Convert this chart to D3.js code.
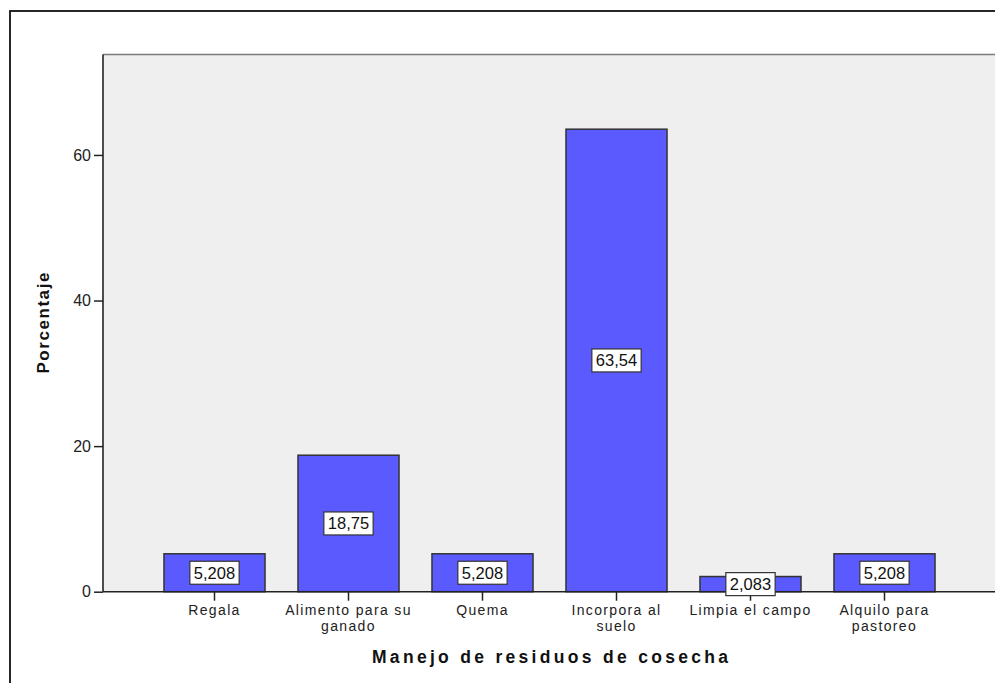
<!DOCTYPE html>
<html>
<head>
<meta charset="utf-8">
<script src="https://cdn.jsdelivr.net/npm/d3@7"></script>
<style>
  html, body { margin: 0; padding: 0; background: #ffffff; }
  svg { display: block; }
</style>
</head>
<body>
<div id="chart"></div>
<script>
// Manejo de residuos de cosecha — porcentaje por categoría
const categories = [
  "Regala",
  "Alimento para su ganado",
  "Quema",
  "Incorpora al suelo",
  "Limpia el campo",
  "Alquilo para pastoreo"
];
const percentages = [5.208, 18.75, 5.208, 63.54, 2.083, 5.208];
const valueLabels = ["5,208", "18,75", "5,208", "63,54", "2,083", "5,208"];
const tickLabelLines = [
  ["Regala"],
  ["Alimento para su", "ganado"],
  ["Quema"],
  ["Incorpora al", "suelo"],
  ["Limpia el campo"],
  ["Alquilo para", "pastoreo"]
];
const yTicks = [0, 20, 40, 60];
const xTitle = "Manejo de residuos de cosecha";
const yTitle = "Porcentaje";

const W = 995, H = 683;
const plot = { left: 103, right: 998, top: 54.5, bottom: 591.7 };

const svg = d3.select("#chart").append("svg")
  .attr("width", W).attr("height", H);

// outer frame
svg.append("rect")
  .attr("x", 10).attr("y", 11)
  .attr("width", W + 20).attr("height", H + 20)
  .attr("fill", "#ffffff")
  .attr("stroke", "#111111").attr("stroke-width", 1.8);

const x = d3.scaleBand()
  .domain(categories)
  .range([147.5, 951.5])
  .paddingInner(0.246)
  .paddingOuter(0.123);

const y = d3.scaleLinear()
  .domain([0, 73.8])
  .range([plot.bottom, plot.top]);

// plot background
svg.append("rect")
  .attr("x", plot.left).attr("y", plot.top)
  .attr("width", plot.right - plot.left).attr("height", plot.bottom - plot.top)
  .attr("fill", "#efefef");

svg.append("line")
  .attr("x1", plot.left).attr("x2", plot.right)
  .attr("y1", plot.top).attr("y2", plot.top)
  .attr("stroke", "#7a7a7a").attr("stroke-width", 1.6);

// bars
svg.append("g").selectAll("rect")
  .data(percentages)
  .join("rect")
  .attr("x", (d, i) => x(categories[i]))
  .attr("y", d => y(d))
  .attr("width", x.bandwidth())
  .attr("height", d => y(0) - y(d))
  .attr("fill", "#5a5aff")
  .attr("stroke", "#333333")
  .attr("stroke-width", 1.5);

// y axis
const yAxis = svg.append("g")
  .attr("transform", `translate(${plot.left},0)`)
  .call(d3.axisLeft(y).tickValues(yTicks).tickSize(9).tickPadding(3).tickFormat(d3.format("d")));
yAxis.select(".domain").remove();
yAxis.selectAll(".tick line").attr("stroke", "#222").attr("stroke-width", 1.5);
yAxis.selectAll(".tick text")
  .attr("fill", "#222")
  .style("font-family", "'Liberation Sans', Arial, sans-serif")
  .style("font-size", "16px");

svg.append("line")
  .attr("x1", plot.left).attr("x2", plot.left)
  .attr("y1", plot.top).attr("y2", plot.bottom)
  .attr("stroke", "#222").attr("stroke-width", 1.6);

// x axis
const xAxis = svg.append("g")
  .attr("transform", `translate(0,${plot.bottom})`)
  .call(d3.axisBottom(x).tickSize(9).tickFormat(""));
xAxis.select(".domain").remove();
xAxis.selectAll(".tick line").attr("stroke", "#222").attr("stroke-width", 1.5);
xAxis.selectAll(".tick text").remove();

svg.append("line")
  .attr("x1", plot.left).attr("x2", plot.right)
  .attr("y1", plot.bottom).attr("y2", plot.bottom)
  .attr("stroke", "#222").attr("stroke-width", 1.6);

// category labels, wrapped onto two lines where needed
const tickText = svg.append("g").selectAll("text")
  .data(categories)
  .join("text")
  .attr("x", d => x(d) + x.bandwidth() / 2)
  .attr("y", 615)
  .attr("text-anchor", "middle")
  .attr("fill", "#222")
  .style("font-family", "'Liberation Sans', Arial, sans-serif")
  .style("font-size", "14px")
  .style("letter-spacing", "1.35px");
tickText.each(function(d, i) {
  const t = d3.select(this);
  tickLabelLines[i].forEach((line, k) => {
    t.append("tspan")
      .attr("x", x(d) + x.bandwidth() / 2)
      .attr("dy", k === 0 ? 0 : 15.8)
      .text(line);
  });
});

// value labels
const labels = svg.append("g").selectAll("g")
  .data(percentages)
  .join("g")
  .attr("transform", (d, i) =>
    `translate(${x(categories[i]) + x.bandwidth() / 2},${(y(d) + y(0)) / 2})`);
labels.append("rect").attr("fill", "#ffffff").attr("stroke", "#333").attr("stroke-width", 1.2);
labels.append("text")
  .attr("text-anchor", "middle")
  .attr("dy", "0.36em")
  .attr("fill", "#111")
  .style("font-family", "'Liberation Sans', Arial, sans-serif")
  .style("font-size", "16.5px")
  .text((d, i) => valueLabels[i]);
labels.each(function() {
  const g = d3.select(this);
  const w = g.select("text").node().getComputedTextLength() + 8;
  g.select("rect")
    .attr("x", -w / 2).attr("y", -11.5)
    .attr("width", w).attr("height", 23);
});

// axis titles
svg.append("text")
  .attr("x", (plot.left + 997) / 2)
  .attr("y", 663)
  .attr("text-anchor", "middle")
  .attr("fill", "#111")
  .attr("textLength", 356)
  .attr("lengthAdjust", "spacing")
  .style("font-family", "'Liberation Sans', Arial, sans-serif")
  .style("font-weight", "bold")
  .style("font-size", "17.5px")
  .text(xTitle);

svg.append("text")
  .attr("transform", `translate(48.5,${(plot.top + plot.bottom) / 2}) rotate(-90)`)
  .attr("text-anchor", "middle")
  .attr("fill", "#111")
  .attr("textLength", 101)
  .attr("lengthAdjust", "spacing")
  .style("font-family", "'Liberation Sans', Arial, sans-serif")
  .style("font-weight", "bold")
  .style("font-size", "17px")
  .text(yTitle);
</script>
</body>
</html>
